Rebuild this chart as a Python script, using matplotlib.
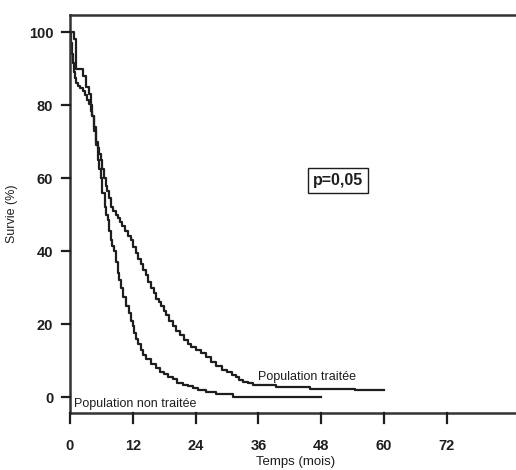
import matplotlib
matplotlib.use("Agg")
import matplotlib.pyplot as plt
from matplotlib.lines import Line2D

plt.rcdefaults()
plt.rcParams["font.family"] = ["Liberation Sans", "DejaVu Sans"]

# --------------------------------------------------
# Kaplan-Meier curves (months, % survival)
# --------------------------------------------------

t_traitee = [0, 0.2, 0.4, 0.6, 0.8, 1.0, 1.2, 1.6, 2.0, 2.4, 2.8, 3.2, 3.6,
             4.0, 4.3, 4.6, 5.0, 5.3, 5.6, 5.9, 6.2, 6.5, 6.8, 7.1, 7.4,
             7.8, 8.2, 8.7, 9.1, 9.5, 10.0, 10.5, 11.1, 11.7, 12.1, 12.6,
             13.0, 13.5, 14.0, 14.5, 15.0, 15.5, 16.0, 16.5, 17.0, 17.4,
             17.9, 18.4, 19.0, 19.6, 20.3, 21.0, 21.7, 22.5, 23.2, 24.0,
             25.0, 26.0, 27.0, 28.0, 29.0, 30.0, 30.9, 31.8, 32.4, 33.0,
             34.0, 35.0, 39.4, 45.8, 54.4, 60.0]
s_traitee = [100, 97, 94, 91.5, 89, 87.5, 86, 85.3, 84.7, 84, 82.8, 81.5, 80.3,
             78.5, 77, 74, 70, 68.3, 66.6, 65, 62.5, 60, 58, 56.5, 54.5,
             52, 51, 50, 49, 48, 46.8, 45.5, 44.2, 43, 41.2, 39.5,
             38, 36.5, 35, 33.5, 31.7, 30, 28.5, 27, 26, 25,
             23.7, 22.5, 21, 19.5, 18.2, 17, 15.7, 14.5, 13.7, 13,
             12, 11, 9.7, 8.5, 7.6, 6.8, 6.1, 5.5, 4.8, 4.2,
             3.8, 3.4, 2.7, 2.2, 2.0, 2.0]

t_non_traitee = [0, 0.8, 1.2, 2.4, 3.0, 3.7, 4.0, 4.3, 4.6, 5.0, 5.3, 5.6,
                 5.9, 6.2, 6.6, 6.9, 7.2, 7.5, 7.8, 8.1, 8.5, 8.8, 9.1, 9.4,
                 9.8, 10.2, 10.7, 11.3, 11.6, 12.0, 12.3, 12.6, 13.0, 13.5,
                 14.0, 14.5, 15.5, 16.5, 17.2, 18.0, 18.8, 19.6, 20.5, 21.6,
                 22.5, 23.5, 24.5, 26.0, 27.9, 31.1, 48.0]
s_non_traitee = [100, 98, 90, 88, 85, 83, 80, 77, 73, 69, 65, 62.5,
                 60, 56, 52, 50, 48.5, 45.5, 43, 41.5, 40, 37, 34, 32,
                 30, 27.5, 25, 23, 21, 19.5, 17.5, 16, 14.5, 13,
                 11.5, 10.5, 9, 8, 7, 6.5, 5.5, 5, 4, 3.5,
                 3, 2.5, 2, 1.5, 1.0, 0.2, 0.2]

x_ticks = [0, 12, 24, 36, 48, 60, 72]
y_ticks = [0, 20, 40, 60, 80, 100]


# --------------------------------------------------
# Plot
# --------------------------------------------------

W, H = 516, 470
fig = plt.figure(figsize=(W / 100, H / 100), dpi=100)
ax = fig.add_axes([70 / W, (H - 413) / H, 452 / W, 398 / H])

ink = "#1e1e1e"

ax.plot(t_traitee, s_traitee, drawstyle="steps-post", color=ink, lw=1.6)
ax.plot(t_non_traitee, s_non_traitee, drawstyle="steps-post", color=ink, lw=1.6)

ax.text(36.0, 5.6, "Population traitée", fontsize=9, color=ink,
        va="center", ha="left")
ax.text(0.8, -1.7, "Population non traitée", fontsize=9, color=ink,
        va="center", ha="left")

ax.text(51.3, 59.3, "p=0,05", fontsize=11.5, fontweight="bold", color=ink,
        ha="center", va="center",
        bbox=dict(boxstyle="square,pad=0.3", fc="white", ec=ink, lw=1.0))

ax.set_xlim(0, 86.4)
ax.set_ylim(-4.3, 104.7)
ax.set_xticks(x_ticks)
ax.set_yticks(y_ticks)

for lab in ax.get_xticklabels() + ax.get_yticklabels():
    lab.set_fontweight("bold")
ax.tick_params(axis="both", which="major", length=0,
               labelcolor=ink, labelsize=10.5)
ax.tick_params(axis="y", pad=12)
ax.tick_params(axis="x", pad=19)

# outward tick marks (R style), placed through the axes' own scales
ymin = ax.get_ylim()[0]
for t in x_ticks:
    px, py = ax.transData.transform((t, ymin))
    fig.add_artist(Line2D([px / W, px / W], [py / H, (py - 10) / H],
                          transform=fig.transFigure, color=ink, lw=1.6))
for s in y_ticks:
    px, py = ax.transData.transform((0, s))
    fig.add_artist(Line2D([px / W, (px - 8) / W], [py / H, py / H],
                          transform=fig.transFigure, color=ink, lw=1.6))

ax.spines["right"].set_visible(False)
for side in ["left", "top", "bottom"]:
    ax.spines[side].set_linewidth(1.8)
    ax.spines[side].set_color("#333333")

ax.set_xlabel("Temps (mois)", fontsize=9.5, color=ink, labelpad=2)
ax.set_ylabel("Survie (%)", fontsize=9, color=ink, labelpad=8)

fig.savefig("out.png", dpi=100)
